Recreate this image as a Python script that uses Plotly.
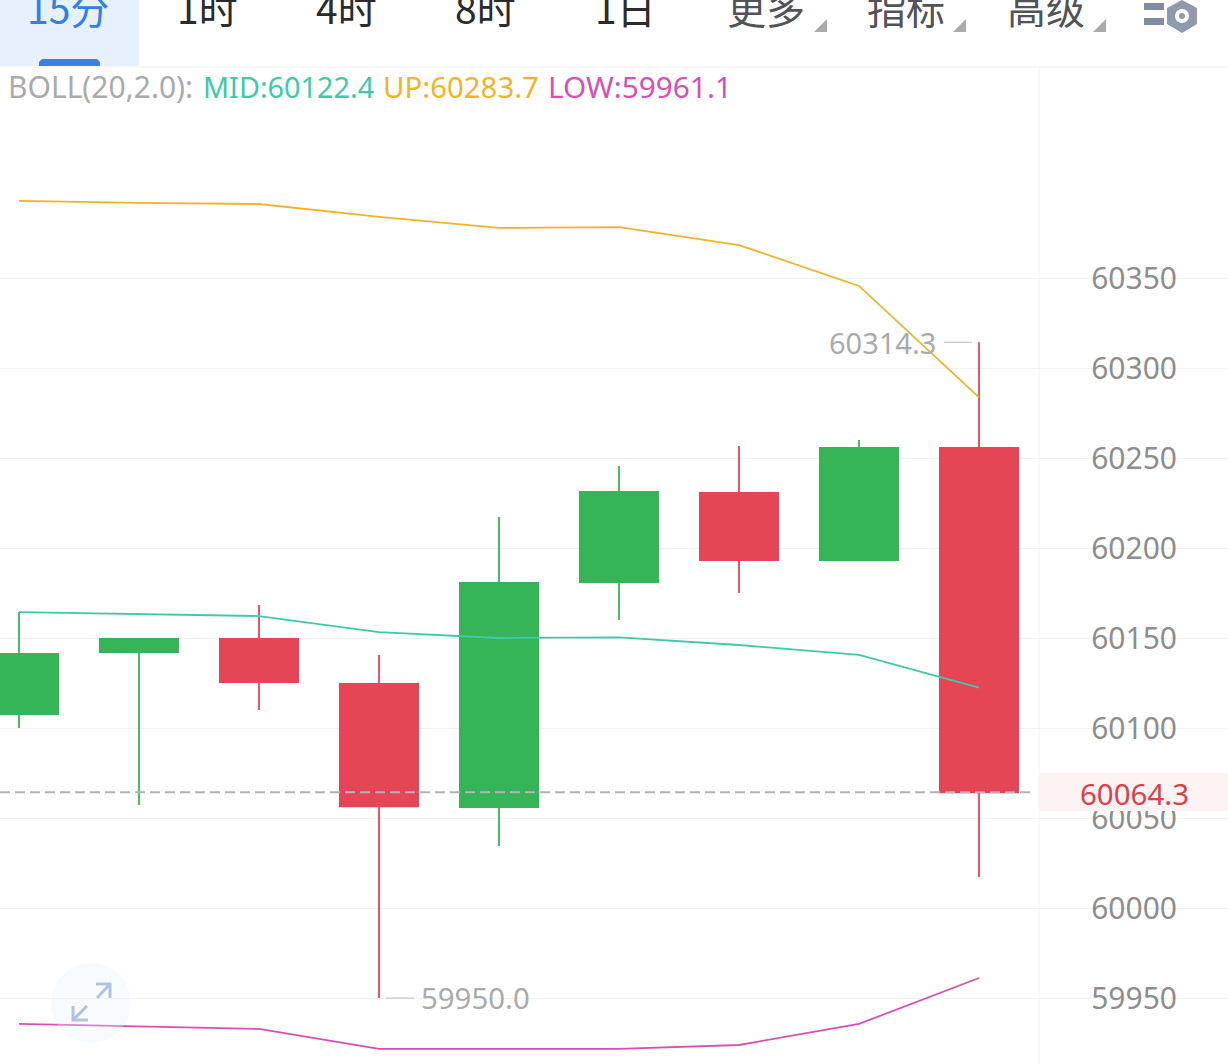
import plotly.graph_objects as go

W, H = 1228, 1064

# ---- data -------------------------------------------------------------
index = [0, 1, 2, 3, 4, 5, 6, 7, 8]
opens = [60107.7, 60142.2, 60149.5, 60124.5, 60056.1, 60181.1, 60230.6, 60193.3, 60255.6]
highs = [60164.4, 60150.0, 60168.3, 60140.6, 60217.2, 60245.6, 60256.7, 60260.0, 60314.3]
lows = [60100.0, 60057.2, 60110.0, 59950.0, 60034.4, 60160.0, 60175.0, 60192.8, 60017.2]
closes = [60141.2, 60149.5, 60125.5, 60056.5, 60180.6, 60231.2, 60193.3, 60255.6, 60064.3]
boll_up = [60392.8, 60391.7, 60391.1, 60383.9, 60377.8, 60378.3, 60368.3, 60345.6, 60283.7]
boll_mid = [60164.4, 60163.3, 60162.2, 60153.3, 60150.0, 60150.3, 60146.1, 60140.6, 60122.4]
boll_low = [59935.6, 59934.4, 59932.8, 59921.7, 59921.7, 59921.7, 59923.9, 59935.6, 59961.1]
y_ticks = [59950, 60000, 60050, 60100, 60150, 60200, 60250, 60300, 60350]
last_price = 60064.3
tabs = ["15分", "1时", "4时", "8时", "1日", "更多", "指标", "高级"]
tab_x = [68, 207, 346, 485, 625, 766, 906, 1046]
legend_text = ["BOLL(20,2.0):", "MID:60122.4", "UP:60283.7", "LOW:59961.1"]
legend_x = [9, 204, 384, 549]
legend_size = [30, 28.8, 29.4, 29.8]
legend_col = ["#ABABAB", "#3CCBA9", "#F3B328", "#D94FB4"]

GREEN, RED = "#35B558", "#E64555"
SANS = "Noto Sans, Noto Sans CJK SC, sans-serif"
CJK = "Noto Sans CJK SC, sans-serif"


def px(x):
    return x / W


def py(y):
    return 1 - y / H


def pshape(x0, y0, x1, y1, **kw):
    return dict(xref="paper", yref="paper", x0=px(x0), x1=px(x1), y0=py(y0), y1=py(y1), **kw)


def ppath(points, **kw):
    d = "M" + " L".join(f"{px(a):.5f},{py(b):.5f}" for a, b in points) + " Z"
    return dict(type="path", xref="paper", yref="paper", path=d, **kw)


def pline(points, **kw):
    d = "M" + " L".join(f"{px(a):.5f},{py(b):.5f}" for a, b in points)
    return dict(type="path", xref="paper", yref="paper", path=d, **kw)


fig = go.Figure()
fig.add_trace(go.Candlestick(
    x=index, open=opens, high=highs, low=lows, close=closes,
    increasing=dict(line=dict(color=GREEN, width=1.8), fillcolor=GREEN),
    decreasing=dict(line=dict(color=RED, width=1.8), fillcolor=RED),
    whiskerwidth=0, showlegend=False, hoverinfo="skip",
))
for vals, col in [(boll_up, legend_col[2]), (boll_mid, legend_col[1]), (boll_low, legend_col[3])]:
    fig.add_trace(go.Scatter(x=index, y=vals, mode="lines", line=dict(color=col, width=1.8),
                             showlegend=False, hoverinfo="skip"))

shapes = [
    # clear the gridlines behind the axis labels
    pshape(1052, 67, 1214, 1064, type="rect", fillcolor="white", line_width=0, layer="between"),
    # axis divider
    pshape(1039, 67, 1039, 1064, type="line", line=dict(color="#F2F2F2", width=1), layer="between"),
    # header
    pshape(0, 0, 139, 66, type="rect", fillcolor="#E6F1FD", line_width=0, layer="above"),
    ppath([(39, 66), (39, 62), (42, 59), (97, 59), (100, 62), (100, 66)],
          fillcolor="#3B80E2", line_width=0, layer="above"),
    pshape(0, 67, 1228, 67, type="line", line=dict(color="#F2F2F2", width=1), layer="above"),
    # last price
    pshape(1039, 773, 1228, 811, type="rect", fillcolor="#FCF3F2", line_width=0, layer="above"),
    dict(type="line", xref="paper", yref="y", x0=0, x1=px(1033), y0=last_price, y1=last_price,
         line=dict(color="#B4B4B4", width=2, dash="10px,5px"), layer="above"),
    # high and low leader lines
    dict(type="line", xref="paper", yref="y", x0=px(944), x1=px(972), y0=highs[8], y1=highs[8],
         line=dict(color="#B8B8B8", width=1), layer="above"),
    dict(type="line", xref="paper", yref="y", x0=px(386), x1=px(414), y0=lows[3], y1=lows[3],
         line=dict(color="#B8B8B8", width=1), layer="above"),
    # expand button
    pshape(51, 963, 131, 1043, type="circle", fillcolor="rgba(232,242,252,0.3)", line_width=0, layer="above"),
    pline([(96, 984), (110, 984), (110, 998)], line=dict(color="#AFC4E4", width=3), layer="above"),
    pline([(110, 984), (97, 998)], line=dict(color="#AFC4E4", width=3), layer="above"),
    pline([(73, 1006), (73, 1020), (88, 1020)], line=dict(color="#AFC4E4", width=3), layer="above"),
    pline([(73, 1020), (87, 1006)], line=dict(color="#AFC4E4", width=3), layer="above"),
    # settings icon
    pshape(1144, 3, 1164, 10, type="rect", fillcolor="#7F8CA3", line_width=0, layer="above"),
    pshape(1144, 18, 1164, 25, type="rect", fillcolor="#7F8CA3", line_width=0, layer="above"),
    ppath([(1182, 0), (1197, 8), (1197, 24), (1182, 33), (1167, 24), (1167, 8)],
          fillcolor="#8F9AAE", line_width=0, layer="above"),
    pshape(1175, 9, 1189, 23, type="circle", fillcolor="white", line_width=0, layer="above"),
    pshape(1179, 13, 1185, 19, type="circle", fillcolor="#8F9AAE", line_width=0, layer="above"),
]
for tx in (827, 966, 1106):
    shapes.append(ppath([(tx - 13, 32), (tx, 32), (tx, 19)], fillcolor="#ABABAB", line_width=0, layer="above"))

annotations = []
for i, (t, x) in enumerate(zip(tabs, tab_x)):
    col = "#2F80E8" if i == 0 else ("#2B2B2B" if i < 5 else "#505358")
    annotations.append(dict(xref="paper", yref="paper", x=px(x), y=py(7), text=t, showarrow=False,
                            xanchor="center", yanchor="middle", font=dict(family=CJK, size=39, color=col)))
for t, x, c, s in zip(legend_text, legend_x, legend_col, legend_size):
    annotations.append(dict(xref="paper", yref="paper", x=px(x), y=py(87), text=t, showarrow=False,
                            xanchor="left", yanchor="middle", xshift=-2, borderpad=0,
                            font=dict(family=SANS, size=s, color=c)))
annotations += [
    dict(xref="paper", yref="paper", x=px(1134), y=py(793), text=f"{last_price:.1f}", showarrow=False,
         xanchor="center", yanchor="middle", font=dict(family=SANS, size=29.5, color="#DD3F4E")),
    dict(xref="paper", yref="y", x=px(938), y=highs[8], text=f"{highs[8]:.1f}", showarrow=False,
         xanchor="right", yanchor="middle", font=dict(family=SANS, size=29, color="#ABABAB")),
    dict(xref="paper", yref="y", x=px(419), y=lows[3], text=f"{lows[3]:.1f}", showarrow=False,
         xanchor="left", yanchor="middle", font=dict(family=SANS, size=29.4, color="#ABABAB")),
]

x_left = (0 - 19) / 120
x_right = (W - 19) / 120
y_top = 60350 + 278 / 1.8
y_bot = 59950 - 66 / 1.8

fig.update_layout(
    width=W, height=H, margin=dict(l=0, r=0, t=0, b=0, pad=0),
    paper_bgcolor="white", plot_bgcolor="white", boxgap=0.348, boxgroupgap=0,
    showlegend=False, shapes=shapes, annotations=annotations,
    xaxis=dict(range=[x_left, x_right], visible=False, rangeslider=dict(visible=False), fixedrange=True),
    yaxis=dict(range=[y_bot, y_top], side="right", tickvals=y_ticks, ticktext=[str(v) for v in y_ticks],
               ticklabelposition="inside", ticks="", ticklabelstandoff=48, showline=False, zeroline=False,
               gridcolor="#F3F3F3", gridwidth=1, fixedrange=True,
               tickfont=dict(family=SANS, size=30, color="#8E8E8E")),
)
fig.write_html("out.html", post_script="document.body.style.margin='0';document.documentElement.style.overflow='hidden';",
               config=dict(displayModeBar=False))
